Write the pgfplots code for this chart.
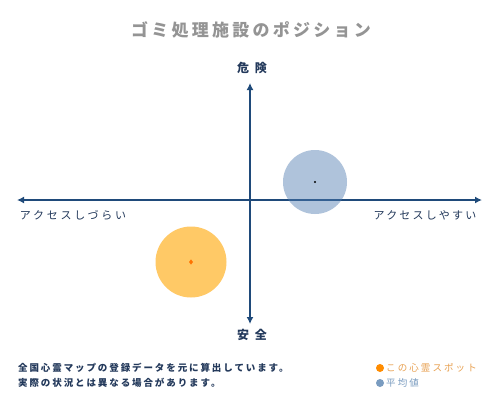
\documentclass[border=0pt]{standalone}
\usepackage{fontspec}
\setmainfont{Noto Sans CJK JP}
\usepackage{pgfplots}
\pgfplotsset{compat=1.18}
\usetikzlibrary{arrows.meta}
\definecolor{navy}{HTML}{1F4A7A}
\definecolor{txt}{HTML}{23395B}
\definecolor{ttl}{HTML}{949494}
\definecolor{org}{HTML}{FFA500}
\definecolor{blu}{HTML}{4F7CB0}
\definecolor{orgtxt}{HTML}{E8A050}
\definecolor{blutxt}{HTML}{7A9CC0}
\begin{document}
\begin{tikzpicture}[x=1bp,y=1bp]
\path[fill=white] (0,0) rectangle (500,400);
\begin{axis}[at={(0,0)},anchor=south west, scale only axis, width=500bp, height=400bp,
  xmin=-250,xmax=250,ymin=-200,ymax=200, hide axis, clip=false]
\addplot[navy, line width=2bp, {Latex[length=7bp,width=7bp]}-{Latex[length=7bp,width=7bp]}] coordinates {(-233,0)(232,0)};
\addplot[navy, line width=2bp, {Latex[length=7bp,width=7bp]}-{Latex[length=7bp,width=7bp]}] coordinates {(0,117)(0,-124)};
\addplot[only marks, mark=*, mark size=35.5bp, color=org, draw opacity=0, fill opacity=0.6, mark options={draw opacity=0, fill=org, fill opacity=0.6}] coordinates {(-59,-62)};
\addplot[only marks, mark=*, mark size=32bp, color=blu, draw opacity=0, fill opacity=0.45, mark options={draw opacity=0, fill=blu, fill opacity=0.45}] coordinates {(65,18)};
\addplot[only marks, mark=diamond*, mark size=2.6bp, color=orgtxt, mark options={draw opacity=0, fill=orange!90!red, fill opacity=1}] coordinates {(-59,-62)};
\addplot[only marks, mark=*, mark size=1.2bp, color=black, mark options={draw opacity=0, fill=black, fill opacity=1}] coordinates {(65,18)};
\end{axis}
\node[ttl, font=\fontsize{17bp}{20bp}\selectfont\bfseries\addfontfeatures{LetterSpace=19}] at (251,370) {ゴミ処理施設のポジション};
\node[txt, font=\fontsize{12bp}{14bp}\selectfont\bfseries\addfontfeatures{LetterSpace=50}] at (252,332) {危険};
\node[txt, font=\fontsize{12bp}{14bp}\selectfont\bfseries\addfontfeatures{LetterSpace=50}] at (252,65) {安全};
\node[txt, font=\fontsize{11bp}{13bp}\selectfont\addfontfeatures{LetterSpace=25}] at (73,185) {アクセスしづらい};
\node[txt, font=\fontsize{11bp}{13bp}\selectfont\addfontfeatures{LetterSpace=20}] at (425,185) {アクセスしやすい};
\node[txt, anchor=west, inner sep=0pt, font=\fontsize{9.5bp}{11bp}\selectfont\bfseries\addfontfeatures{LetterSpace=20}] at (18,32) {全国心霊マップの登録データを元に算出しています。};
\node[txt, anchor=west, inner sep=0pt, font=\fontsize{9.5bp}{11bp}\selectfont\bfseries\addfontfeatures{LetterSpace=20}] at (18,17) {実際の状況とは異なる場合があります。};
\fill[org!85!red] (380,32) circle (4);
\fill[blutxt] (380,17) circle (4);
\node[orgtxt, anchor=west, inner sep=0pt, font=\fontsize{9.5bp}{11bp}\selectfont\addfontfeatures{LetterSpace=22}] at (386,32) {この心霊スポット};
\node[blutxt, anchor=west, inner sep=0pt, font=\fontsize{9.5bp}{11bp}\selectfont\addfontfeatures{LetterSpace=22}] at (386,17) {平均値};
\end{tikzpicture}
\end{document}
